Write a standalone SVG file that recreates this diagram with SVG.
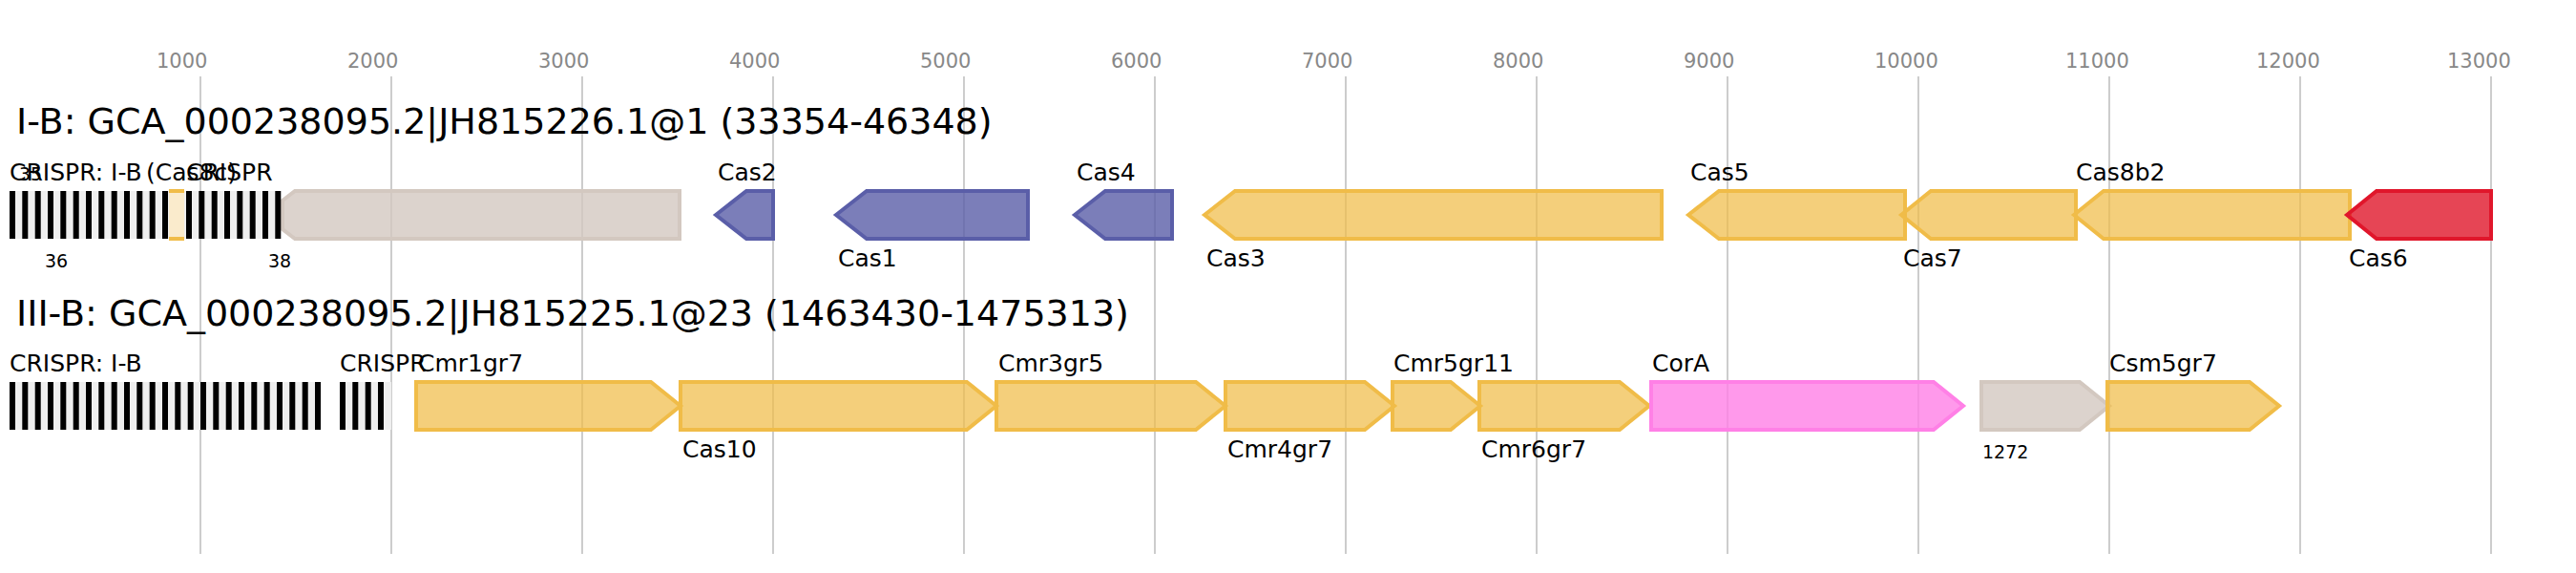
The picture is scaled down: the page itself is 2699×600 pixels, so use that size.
<svg xmlns="http://www.w3.org/2000/svg" width="2699" height="600" viewBox="0 0 2699 600">
<style>
text{font-family:"DejaVu Sans","Liberation Sans",sans-serif;fill:#000}
.tick{font-size:21px;fill:#888}
.title{font-size:38px}
.lbl{font-size:25px}
.sm{font-size:19px}
.grid line{stroke:#c0c0c0;stroke-width:1.6}
.g{stroke-width:4;stroke-linejoin:miter}
.orange{fill:#f0bc48;fill-opacity:0.72;stroke:#f0bc48}
.blue{fill:#5a5ea8;fill-opacity:0.8;stroke:#5a5ea8}
.red{fill:#e0162b;fill-opacity:0.8;stroke:#e0162b}
.pink{fill:#ff80e6;fill-opacity:0.8;stroke:#ff80e6}
.gray{fill:#d3c8c0;fill-opacity:0.8;stroke:#d3c8c0}
.arr{fill:#efefef}
.rep{fill:#000}
</style>
<rect width="2699" height="600" fill="#fff"/>
<g id="axis" class="grid">
<line x1="210" y1="80" x2="210" y2="580"/><line x1="410" y1="80" x2="410" y2="580"/><line x1="610" y1="80" x2="610" y2="580"/><line x1="810" y1="80" x2="810" y2="580"/><line x1="1010" y1="80" x2="1010" y2="580"/><line x1="1210" y1="80" x2="1210" y2="580"/><line x1="1410" y1="80" x2="1410" y2="580"/><line x1="1610" y1="80" x2="1610" y2="580"/><line x1="1810" y1="80" x2="1810" y2="580"/><line x1="2010" y1="80" x2="2010" y2="580"/><line x1="2210" y1="80" x2="2210" y2="580"/><line x1="2410" y1="80" x2="2410" y2="580"/><line x1="2610" y1="80" x2="2610" y2="580"/>
<text class="tick" x="164" y="71">1000</text><text class="tick" x="364" y="71">2000</text><text class="tick" x="564" y="71">3000</text><text class="tick" x="764" y="71">4000</text><text class="tick" x="964" y="71">5000</text><text class="tick" x="1164" y="71">6000</text><text class="tick" x="1364" y="71">7000</text><text class="tick" x="1564" y="71">8000</text><text class="tick" x="1764" y="71">9000</text><text class="tick" x="1964" y="71">10000</text><text class="tick" x="2164" y="71">11000</text><text class="tick" x="2364" y="71">12000</text><text class="tick" x="2564" y="71">13000</text>
</g>
<text class="title" x="17" y="140">I-B: GCA_000238095.2|JH815226.1@1 (33354-46348)</text>
<text class="title" x="17" y="341">III-B: GCA_000238095.2|JH815225.1@23 (1463430-1475313)</text>

<g id="track1">
<g id="gene-hyp1"><polygon class="g gray" points="296,210 309,200 712,200 712,250 309,250 296,240"/></g>
<g id="crispr1">
<rect class="arr" x="10" y="200" width="284" height="50"/>
<g class="rep">
<rect x="10" y="200" width="6" height="50"/><rect x="23.3" y="200" width="6" height="50"/><rect x="36.7" y="200" width="6" height="50"/><rect x="50" y="200" width="6" height="50"/><rect x="63.3" y="200" width="6" height="50"/><rect x="76.7" y="200" width="6" height="50"/><rect x="90" y="200" width="6" height="50"/><rect x="103.3" y="200" width="6" height="50"/><rect x="116.7" y="200" width="6" height="50"/><rect x="130" y="200" width="6" height="50"/><rect x="143.3" y="200" width="6" height="50"/><rect x="156.7" y="200" width="6" height="50"/><rect x="170" y="200" width="6" height="50"/>
<rect x="195" y="200" width="6" height="50"/><rect x="208.3" y="200" width="6" height="50"/><rect x="221.7" y="200" width="6" height="50"/><rect x="235" y="200" width="6" height="50"/><rect x="248.3" y="200" width="6" height="50"/><rect x="261.7" y="200" width="6" height="50"/><rect x="275" y="200" width="6" height="50"/><rect x="288.3" y="200" width="6" height="50"/>
</g>
<text class="lbl" x="10" y="189">CRISPR: I-B</text>
<text class="sm" x="20" y="189">35</text>
<text class="sm" x="47" y="280">36</text>
<text class="lbl" x="195" y="189">CRISPR</text>
<text class="sm" x="281" y="280">38</text>
</g>
<g id="gene-cas8c">
<rect x="177" y="200" width="16" height="50" fill="#faebcc"/>
<rect x="177" y="198" width="16" height="4" fill="#f0bc48"/>
<rect x="177" y="248" width="16" height="4" fill="#f0bc48"/>
<text class="lbl" x="153" y="189">(Cas8c)</text>
</g>
<g id="gene-cas2"><polygon class="g blue" points="750,225 782,200 810,200 810,250 782,250"/><text class="lbl" x="752" y="189">Cas2</text></g>
<g id="gene-cas1"><polygon class="g blue" points="876,225 908,200 1077,200 1077,250 908,250"/><text class="lbl" x="878" y="279">Cas1</text></g>
<g id="gene-cas4"><polygon class="g blue" points="1126,225 1158,200 1228,200 1228,250 1158,250"/><text class="lbl" x="1128" y="189">Cas4</text></g>
<g id="gene-cas3"><polygon class="g orange" points="1262,225 1294,200 1741,200 1741,250 1294,250"/><text class="lbl" x="1264" y="279">Cas3</text></g>
<g id="gene-cas5"><polygon class="g orange" points="1769,225 1801,200 1996,200 1996,250 1801,250"/><text class="lbl" x="1771" y="189">Cas5</text></g>
<g id="gene-cas7"><polygon class="g orange" points="1992,225 2023,200 2175,200 2175,250 2023,250"/><text class="lbl" x="1994" y="279">Cas7</text></g>
<g id="gene-cas8b2"><polygon class="g orange" points="2173,225 2204,200 2462,200 2462,250 2204,250"/><text class="lbl" x="2175" y="189">Cas8b2</text></g>
<g id="gene-cas6"><polygon class="g red" points="2459,225 2490,200 2610,200 2610,250 2490,250"/><text class="lbl" x="2461" y="279">Cas6</text></g>
</g>

<g id="track2">
<g id="crispr2">
<rect class="arr" x="10" y="400" width="327" height="50"/>
<g class="rep">
<rect x="10" y="400" width="6" height="50"/><rect x="23.3" y="400" width="6" height="50"/><rect x="36.7" y="400" width="6" height="50"/><rect x="50" y="400" width="6" height="50"/><rect x="63.3" y="400" width="6" height="50"/><rect x="76.7" y="400" width="6" height="50"/><rect x="90" y="400" width="6" height="50"/><rect x="103.3" y="400" width="6" height="50"/><rect x="116.7" y="400" width="6" height="50"/><rect x="130" y="400" width="6" height="50"/><rect x="143.3" y="400" width="6" height="50"/><rect x="156.7" y="400" width="6" height="50"/><rect x="170" y="400" width="6" height="50"/><rect x="183.3" y="400" width="6" height="50"/><rect x="196.7" y="400" width="6" height="50"/><rect x="210" y="400" width="6" height="50"/><rect x="223.3" y="400" width="6" height="50"/><rect x="236.7" y="400" width="6" height="50"/><rect x="250" y="400" width="6" height="50"/><rect x="263.3" y="400" width="6" height="50"/><rect x="276.7" y="400" width="6" height="50"/><rect x="290" y="400" width="6" height="50"/><rect x="303.3" y="400" width="6" height="50"/><rect x="316.7" y="400" width="6" height="50"/><rect x="330" y="400" width="6" height="50"/>
</g>
<text class="lbl" x="10" y="389">CRISPR: I-B</text>
</g>
<g id="crispr3">
<rect class="arr" x="356" y="400" width="54" height="50"/>
<g class="rep">
<rect x="356" y="400" width="6" height="50"/><rect x="369.3" y="400" width="6" height="50"/><rect x="382.7" y="400" width="6" height="50"/><rect x="396" y="400" width="6" height="50"/>
</g>
<text class="lbl" x="356" y="389">CRISPR</text>
</g>
<g id="gene-cmr1gr7"><polygon class="g orange" points="436,400 682,400 713,425 682,450 436,450"/><text class="lbl" x="438" y="389">Cmr1gr7</text></g>
<g id="gene-cas10"><polygon class="g orange" points="713,400 1013,400 1044,425 1013,450 713,450"/><text class="lbl" x="715" y="479">Cas10</text></g>
<g id="gene-cmr3gr5"><polygon class="g orange" points="1044,400 1253,400 1284,425 1253,450 1044,450"/><text class="lbl" x="1046" y="389">Cmr3gr5</text></g>
<g id="gene-cmr4gr7"><polygon class="g orange" points="1284,400 1430,400 1461,425 1430,450 1284,450"/><text class="lbl" x="1286" y="479">Cmr4gr7</text></g>
<g id="gene-cmr5gr11"><polygon class="g orange" points="1459,400 1520,400 1551,425 1520,450 1459,450"/><text class="lbl" x="1460" y="389">Cmr5gr11</text></g>
<g id="gene-cmr6gr7"><polygon class="g orange" points="1550,400 1697,400 1728,425 1697,450 1550,450"/><text class="lbl" x="1552" y="479">Cmr6gr7</text></g>
<g id="gene-cora"><polygon class="g pink" points="1730,400 2026,400 2057,425 2026,450 1730,450"/><text class="lbl" x="1731" y="389">CorA</text></g>
<g id="gene-1272"><polygon class="g gray" points="2076,400 2179,400 2210,425 2179,450 2076,450"/><text class="sm" x="2077" y="480">1272</text></g>
<g id="gene-csm5gr7"><polygon class="g orange" points="2208,400 2357,400 2388,425 2357,450 2208,450"/><text class="lbl" x="2210" y="389">Csm5gr7</text></g>
</g>
</svg>
